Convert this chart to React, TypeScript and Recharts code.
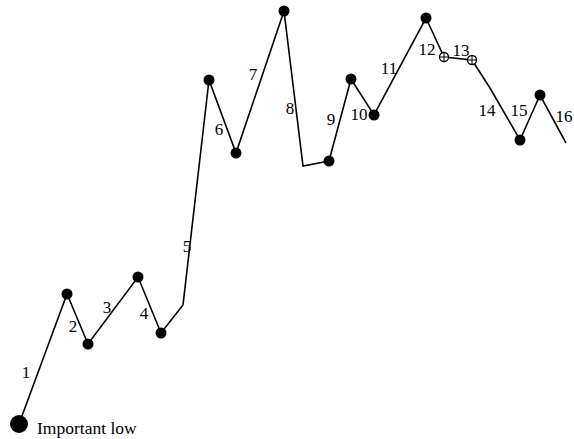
import { ComposedChart, Line, Scatter, XAxis, YAxis } from "recharts";

// swing points: time position, price, marker kind
const times = [19, 67, 88, 138, 161, 183, 209, 236, 284, 303, 329, 351, 374, 426, 444, 472, 490, 520, 540, 566];
const prices = [15, 145, 95, 162, 106, 134, 359, 286, 428, 273, 278, 360, 324, 421, 382, 379, 351, 299, 344, 296];
const markers = ["big", "dot", "dot", "dot", "dot", "none", "dot", "dot", "dot", "none", "dot", "dot", "dot", "dot", "cross", "cross", "none", "dot", "dot", "none"];

// wave labels
const labelTexts = ["1", "2", "3", "4", "5", "6", "7", "8", "9", "10", "11", "12", "13", "14", "15", "16", "Important low"];
const labelTimes = [26, 73, 107, 144, 187, 219, 253, 290, 331, 359, 389, 427, 461, 487, 519, 564, 37];
const labelPrices = [67, 113, 132, 126, 193, 310, 365, 331, 320, 325, 371, 390, 389, 329, 329, 323, 11];

const series = times.map((t, i) => ({ t, p: prices[i], m: markers[i] }));
const labels = labelTexts.map((s, i) => ({ t: labelTimes[i], p: labelPrices[i], s }));

const FONT = "'Liberation Serif', 'Times New Roman', serif";

function Marker(props: any) {
  const { cx, cy, payload } = props;
  if (cx == null || cy == null) return null;
  if (payload.m === "big") return <circle key={`m${cx}`} cx={cx} cy={cy} r={9} fill="#000" />;
  if (payload.m === "dot") return <circle key={`m${cx}`} cx={cx} cy={cy} r={5.5} fill="#000" />;
  if (payload.m === "cross")
    return (
      <g key={`m${cx}`}>
        <circle cx={cx} cy={cy} r={4.5} fill="#fff" stroke="#000" strokeWidth={1.3} />
        <line x1={cx - 4} y1={cy} x2={cx + 4} y2={cy} stroke="#000" strokeWidth={1} />
        <line x1={cx} y1={cy - 4} x2={cx} y2={cy + 4} stroke="#000" strokeWidth={1} />
      </g>
    );
  return <g key={`m${cx}`} />;
}

function LabelText(props: any) {
  const { cx, cy, payload } = props;
  const long = payload.s.length > 3;
  return (
    <text
      x={cx}
      y={cy}
      textAnchor={long ? "start" : "middle"}
      dominantBaseline="central"
      fontFamily={FONT}
      fontSize={long ? 17.5 : 17}
      fill="#000"
    >
      {payload.s}
    </text>
  );
}

export default function App() {
  return (
    <div style={{ position: "absolute", left: 0, top: 0, width: 574, height: 439, background: "#fff" }}>
      <ComposedChart width={574} height={439} margin={{ top: 0, right: 0, bottom: 0, left: 0 }}>
        <XAxis type="number" dataKey="t" domain={[0, 574]} hide />
        <YAxis type="number" dataKey="p" domain={[0, 439]} hide />
        <Line
          data={series}
          dataKey="p"
          type="linear"
          stroke="#000"
          strokeWidth={1.6}
          dot={<Marker />}
          activeDot={false}
          isAnimationActive={false}
        />
        <Scatter data={labels} dataKey="p" shape={<LabelText />} isAnimationActive={false} />
      </ComposedChart>
    </div>
  );
}
